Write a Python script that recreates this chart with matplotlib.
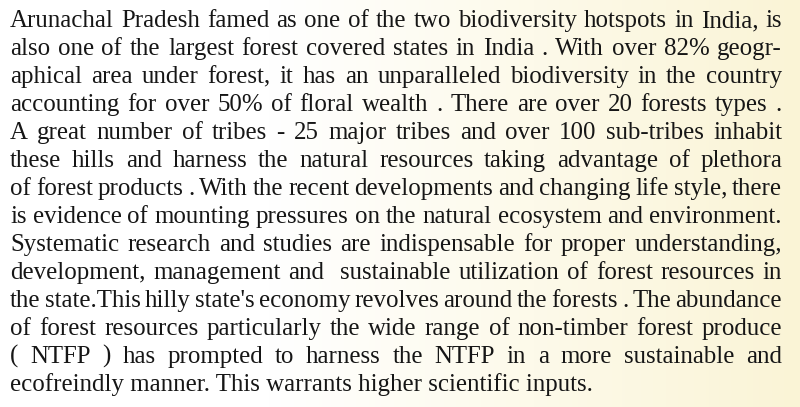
#!/usr/bin/env python3
# A justified paragraph of text drawn with matplotlib on a pale page

import numpy as np
import matplotlib
matplotlib.use('Agg')
import matplotlib.pyplot as plt
from matplotlib.colors import LinearSegmentedColormap

lines = [
    "Arunachal Pradesh famed as one of the two biodiversity hotspots in India, is",
    "also one of the largest forest covered states in India . With over 82% geogr-",
    "aphical area under forest, it has an unparalleled biodiversity in the country",
    "accounting for over 50% of floral wealth . There are over 20 forests types .",
    "A great number of tribes - 25 major tribes and over 100 sub-tribes inhabit",
    "these hills and harness the natural resources taking advantage of plethora",
    "of forest products . With the recent developments and changing life style, there",
    "is evidence of mounting pressures on the natural ecosystem and environment.",
    "Systematic research and studies are indispensable for proper understanding,",
    "development, management and  sustainable utilization of forest resources in",
    "the state.This hilly state's economy revolves around the forests . The abundance",
    "of forest resources particularly the wide range of non-timber forest produce",
    "( NTFP ) has prompted to harness the NTFP in a more sustainable and",
    "ecofreindly manner. This warrants higher scientific inputs.",
]

W, H = 800, 407
left, right = 10, 782
first_base, line_step = 27, 28.0
fsize = 17.9
color = '#161616'
font = 'Liberation Serif'

fig = plt.figure(figsize=(W / 100, H / 100), dpi=100)
bg = fig.add_axes([0, 0, 1, 1])
bg.set_axis_off()
cmap = LinearSegmentedColormap.from_list('page', ['#ffffff', '#ffffff', '#fdfaea', '#faf4d6'])
grad = np.tile(np.linspace(0, 1, 256), (2, 1))
bg.imshow(grad, cmap=cmap, aspect='auto', extent=[0, 1, 0, 1])
bg.set_xlim(0, 1)
bg.set_ylim(0, 1)

fig.canvas.draw()
renderer = fig.canvas.get_renderer()


def word_width(w):
    t = fig.text(0, 0, w, fontsize=fsize, family=font)
    wd = t.get_window_extent(renderer).width
    t.remove()
    return wd


for i, line in enumerate(lines):
    y = 1 - (first_base + i * line_step) / H
    if i == len(lines) - 1:
        fig.text(left / W, y, line, fontsize=fsize, family=font, color=color, va='baseline')
        continue
    # justify: spread the words so each line runs from left to right
    words = line.split(' ')
    widths = [word_width(w) if w else 0 for w in words]
    gap = (right - left - sum(widths)) / (len(words) - 1)
    x = left
    for w, wd in zip(words, widths):
        if w:
            fig.text(x / W, y, w, fontsize=fsize, family=font, color=color, va='baseline')
        x += wd + gap

fig.savefig('out.png', dpi=100)
